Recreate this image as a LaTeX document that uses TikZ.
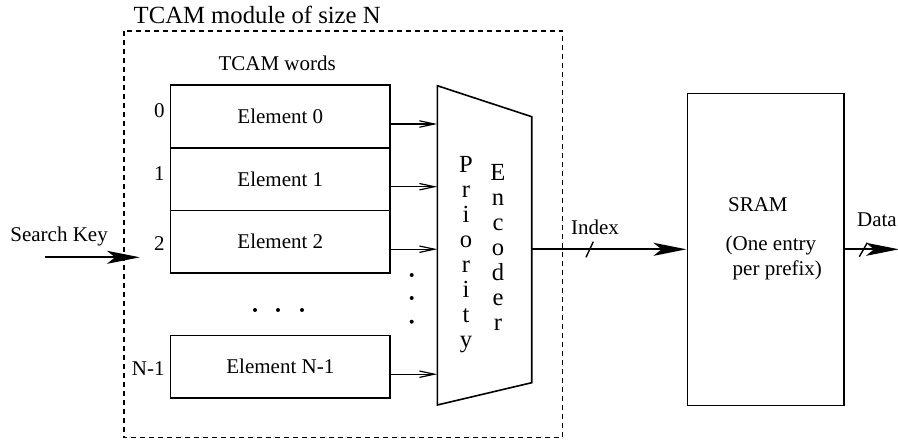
\documentclass[tikz,border=0pt]{standalone}
\usepackage{fontspec}
\setmainfont{Liberation Serif}
\usetikzlibrary{arrows.meta}

\tikzset{
  word/.style={draw, line width=0.8pt, minimum width=109.65pt, minimum height=31.25pt},
  letter/.style={anchor=base, font=\fontsize{12.3}{14.8}\selectfont},
  thinarrow/.style={line width=0.6pt, -{Straight Barb[length=7.5pt,width=3.2pt]}},
  bigarrow/.style={line width=1pt, -{Stealth[length=16.5pt,width=6.5pt,inset=4pt]}},
  module/.style={line width=0.6pt, dash pattern=on 2.5pt off 2pt},
}

\begin{document}
\begin{tikzpicture}[x=0.5pt, y=-0.5pt,
    every node/.style={inner sep=0pt, font=\fontsize{10.5}{12.6}\selectfont}]
            \useasboundingbox (0,0) rectangle (898,439);

            % TCAM module
            \draw[module] (124,31) rectangle (562.7,437.7);
            \node[anchor=base west, font=\fontsize{12.35}{14.8}\selectfont] (title) at (133.3,23.3) {TCAM module of size N};
            \node[anchor=base] (words) at (277.2,70.7) {TCAM words};

            % TCAM words
            \foreach \i/\y/\t/\b in {0/116.5/0/117.3, 1/179.2/1/180, 2/241.7/2/250, 3/366.7/N-1/375} {
                \node[word] (e\i) at (280.3,\y) {Element \t};
                \node[anchor=base east] (n\i) at (165,\b) {\t};
            }
            \foreach \x in {255,278,302}
                \fill (\x,310) circle[radius=1pt];
            \foreach \y in {275,298,321.7}
                \fill (411.7,\y) circle[radius=1pt];

            % Priority encoder
            \coordinate (encTL) at (437.3,85.7);
            \coordinate (encTR) at (531.7,116.7);
            \coordinate (encBR) at (531.7,382.7);
            \coordinate (encBL) at (437.3,405);
            \coordinate (encout) at (531.7,249.3);
            \draw[line width=0.8pt] (encTL) -- (encTR) -- (encBR) -- (encBL) -- cycle;
            \foreach \c [count=\i from 0] in {P,r,i,o,r,i,t,y}
                \node[letter] (pr\i) at (466,{172.7+24.9*\i}) {\c};
            \foreach \c [count=\i from 0] in {E,n,c,o,d,e,r}
                \node[letter] (en\i) at (498,{180+25*\i}) {\c};
            \foreach \i in {0,...,3}
                \draw[thinarrow] ([yshift=-3.75pt]e\i.east) -- ([yshift=-3.75pt]e\i.east -| encTL);

            % Search key
            \node[anchor=base west] (key) at (10,241.7) {Search Key};
            \coordinate (keystart) at (45,257.3);
            \coordinate (keyend) at (140,257.3);
            \draw[bigarrow] (keystart) -- (keyend);

            % SRAM
            \node[draw, line width=0.8pt, minimum width=78.35pt, minimum height=156pt] (sram) at (765.65,249.3) {};
            \node[anchor=base west] (sramlbl) at (727.7,211) {SRAM};
            \node[anchor=base west] (entry) at (725.3,250.5) {(One entry};
            \node[anchor=base west] (prefix) at (732.3,275.5) {per prefix)};

            % Index and data
            \draw[bigarrow] (encout) -- (sram.west);
            \draw[line width=0.7pt] (586,257.3) -- (593.3,241.7);
            \node[anchor=base west] (index) at (570.7,234.5) {Index};
            \coordinate (dataend) at (899,249.3);
            \draw[bigarrow] (sram.east) -- (dataend);
            \draw[line width=0.7pt] (859.3,256.7) -- (867.3,242.7);
            \node[anchor=base west] (data) at (856.7,226.7) {Data};
         \end{tikzpicture}
\end{document}
